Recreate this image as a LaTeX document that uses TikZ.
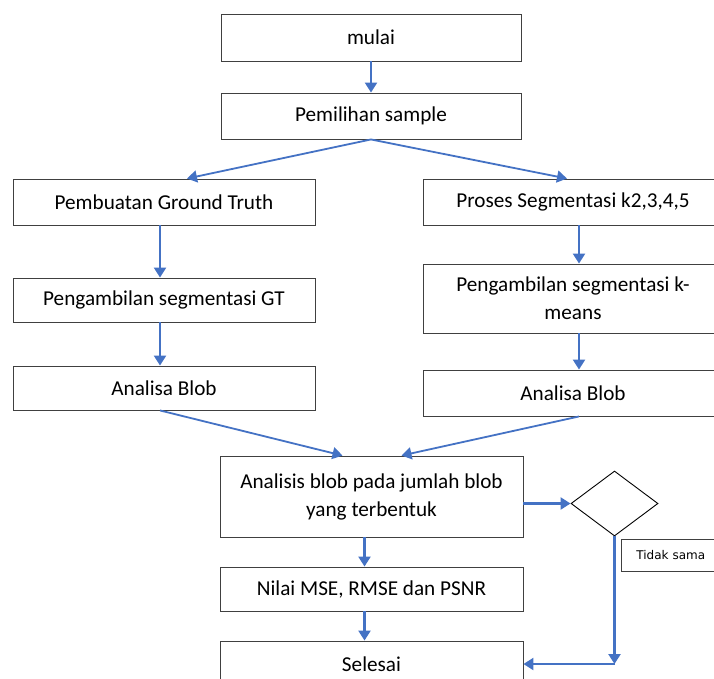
\documentclass[tikz,border=0pt]{standalone}
\usepackage{fontspec}
\setmainfont{Carlito}
\newfontfamily\smallfont{DejaVu Sans}
\usetikzlibrary{arrows.meta,shapes.geometric,calc}
\definecolor{arrblue}{RGB}{68,114,196}
\definecolor{boxgray}{RGB}{64,64,64}
\begin{document}
\begin{tikzpicture}[x=1pt,y=-1pt,
  box/.style={draw=boxgray,line width=0.9pt,fill=white,minimum width=300pt,minimum height=46pt,
    inner sep=0pt,align=center,font=\fontsize{21.2}{28}\selectfont},
  arr/.style={draw=arrblue,line width=2.3pt,-{Triangle[width=12pt,length=10pt]}},
  darr/.style={draw=arrblue,line width=1.8pt,-{Triangle[width=12pt,length=10pt]}},
  ln/.style={draw=arrblue,line width=2.3pt}]
\useasboundingbox (0,0) rectangle (714,678);
\node[box,minimum height=47pt] (mulai) at (371,37.5) {mulai};
\node[box] (pem) at (371,116) {Pemilihan sample};
\node[box,minimum width=302pt] (gt) at (164,202) {Pembuatan Ground Truth};
\node[box] (seg) at (573,202) {Proses Segmentasi k2,3,4,5};
\node[box,minimum width=302pt,minimum height=44pt] (gtseg) at (164,300) {Pengambilan segmentasi GT};
\node[box,minimum height=69pt] (kseg) at (573,298.5) {Pengambilan segmentasi k-\\means};
\node[box,minimum width=302pt,minimum height=44pt] (blobL) at (164,388) {Analisa Blob};
\node[box] (blobR) at (573,393) {Analisa Blob};
\node[box,minimum width=303pt,minimum height=81pt] (anal) at (371.5,496.5) {Analisis blob pada jumlah blob\\yang terbentuk};
\node[draw=black,line width=0.9pt,diamond,minimum width=87pt,minimum height=65pt,inner sep=0pt] (diam) at (614.5,503.5) {};
\node[draw=boxgray,line width=0.8pt,anchor=west,minimum height=32pt,text width=120pt,align=left,inner xsep=15pt,inner ysep=0pt,font=\smallfont\fontsize{12}{14}\selectfont] (ts) at (621,555) {Tidak sama};
\node[box,minimum width=303pt,minimum height=44pt] (nilai) at (371.5,589) {Nilai MSE, RMSE dan PSNR};
\node[box,minimum width=303pt] (sel) at (371.5,664) {Selesai};
\coordinate (corner) at (diam.south |- sel.east);
\draw[arr] (mulai.south) -- (pem.north);
\draw[darr] (pem.south) -- ([xshift=23pt]gt.north);
\draw[darr] (pem.south) -- ([xshift=-6pt]seg.north);
\draw[arr] ([xshift=-4pt]gt.south) -- ([xshift=-4pt]gtseg.north);
\draw[arr] ([xshift=-4pt]gtseg.south) -- ([xshift=-4pt]blobL.north);
\draw[arr] ([xshift=6pt]seg.south) -- ([xshift=6pt]kseg.north);
\draw[arr] ([xshift=6pt]kseg.south) -- ([xshift=6pt]blobR.north);
\draw[darr] ([xshift=-4pt]blobL.south) -- ([xshift=-29pt]anal.north);
\draw[darr] ([xshift=6pt]blobR.south) -- ([xshift=30pt]anal.north);
\draw[arr] (diam.west -| anal.east) -- (diam.west);
\draw[arr] ([xshift=-7pt]anal.south) -- ([xshift=-7pt]nilai.north);
\draw[arr] ([xshift=-7pt]nilai.south) -- ([xshift=-7pt]sel.north);
\draw[arr] (diam.south) -- (corner);
\draw[arr] (corner) -- (sel.east);
\end{tikzpicture}
\end{document}
